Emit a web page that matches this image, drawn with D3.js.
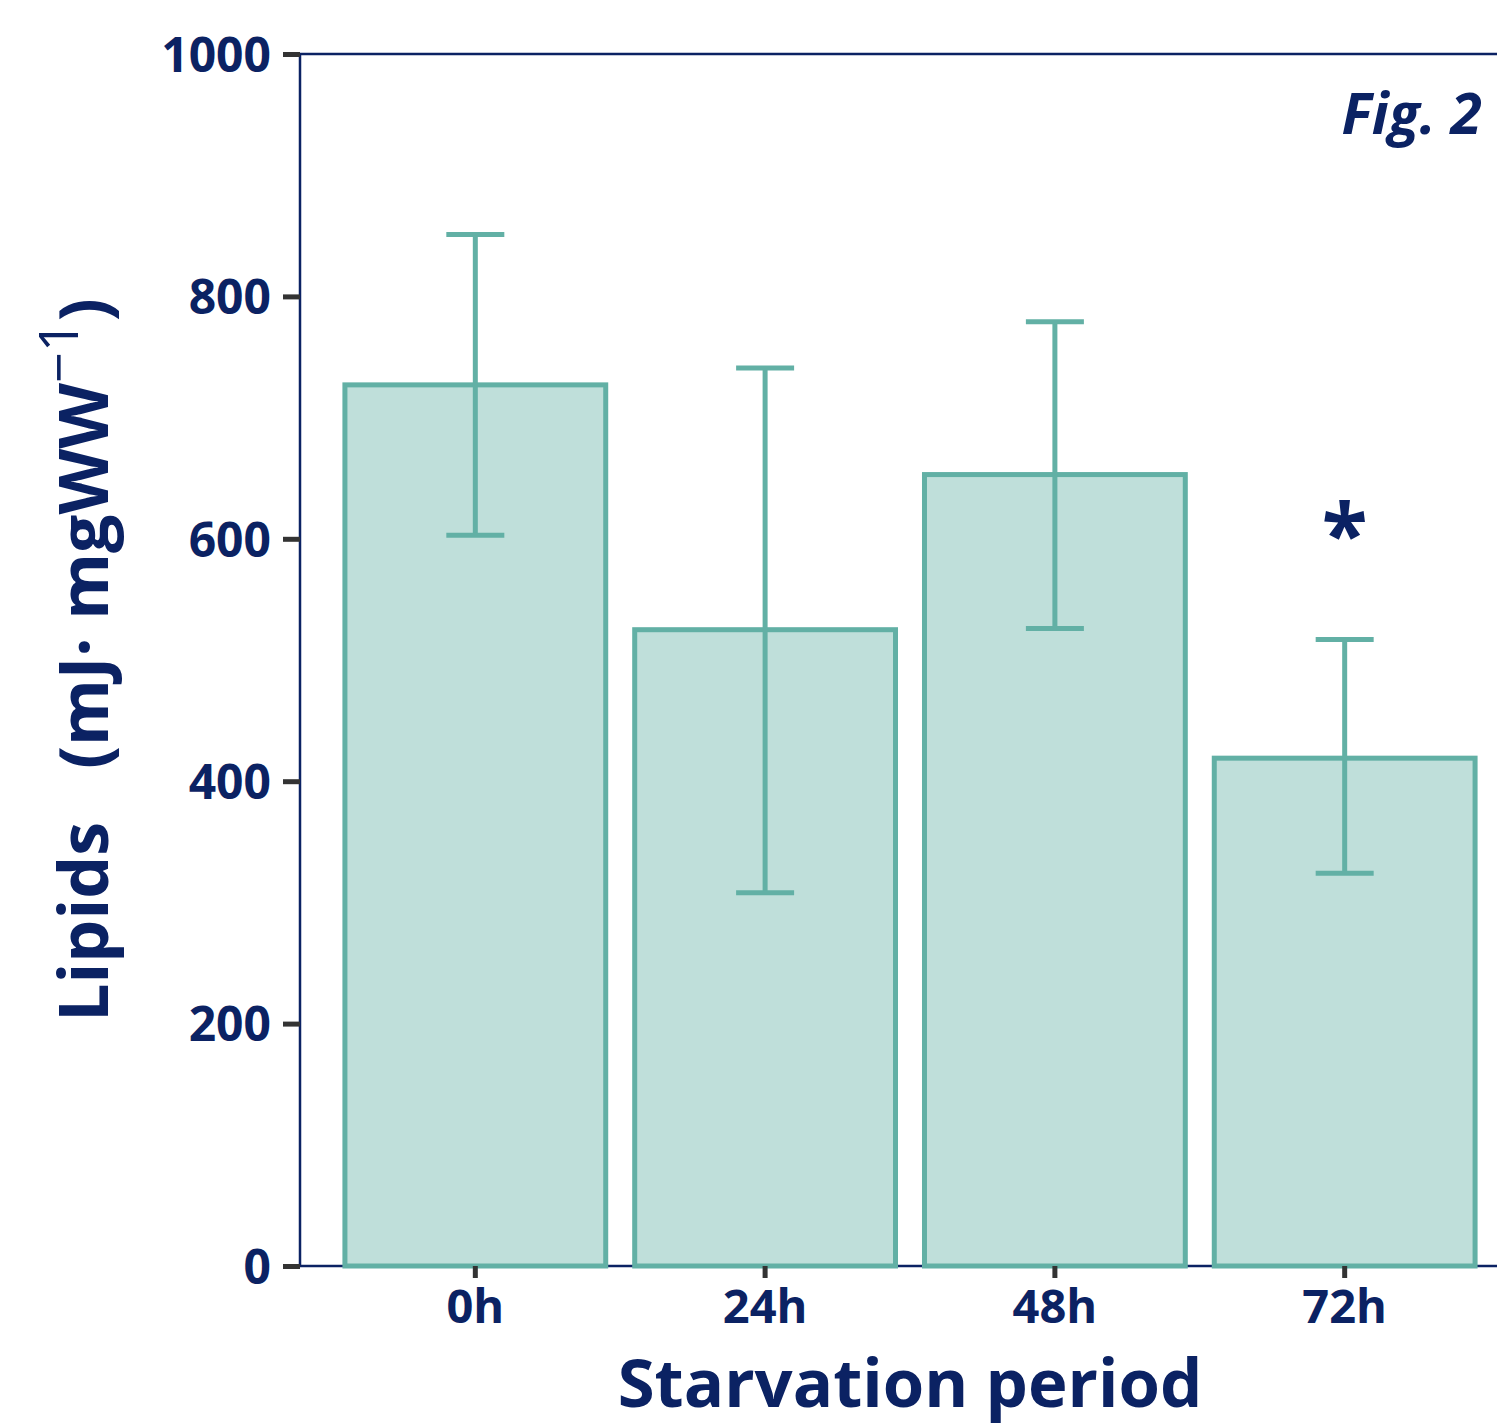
<!DOCTYPE html>
<html>
<head>
<meta charset="utf-8">
<script src="https://cdn.jsdelivr.net/npm/d3@7"></script>
<style>
  body { margin: 0; background: #fff; }
  svg text { font-family: "Open Sans", "DejaVu Sans", sans-serif; font-weight: 700; fill: #0b2263; white-space: pre; }
</style>
</head>
<body>
<div id="chart"></div>
<script>
// data
const periods = ["0h", "24h", "48h", "72h"];
const lipids = [727, 525, 653, 419];
const errUpper = [851, 741, 779, 517];
const errLower = [603, 308, 526, 324];
const significant = [false, false, false, true];
const yTicks = [0, 200, 400, 600, 800, 1000];

const width = 1497, height = 1427;
const margin = {top: 54, left: 300, bottom: 161};
const plotRight = 1520;

const svg = d3.select("#chart").append("svg")
  .attr("width", width)
  .attr("height", height);

const x = d3.scaleBand()
  .domain(periods)
  .range([margin.left, plotRight])
  .paddingInner(0.1)
  .paddingOuter(0.155);

const y = d3.scaleLinear()
  .domain([0, 1000])
  .range([height - margin.bottom, margin.top]);

const navy = "#0b2263";
const teal = "#62b0a5";

// frame
svg.append("rect")
  .attr("x", margin.left)
  .attr("y", y(1000))
  .attr("width", plotRight - margin.left)
  .attr("height", y(0) - y(1000))
  .attr("fill", "none")
  .attr("stroke", navy)
  .attr("stroke-width", 2.5);

// bars
svg.append("g").selectAll("rect")
  .data(periods)
  .join("rect")
    .attr("x", d => x(d))
    .attr("y", (d, i) => y(lipids[i]))
    .attr("width", x.bandwidth())
    .attr("height", (d, i) => y(0) - y(lipids[i]))
    .attr("fill", "#bfdfda")
    .attr("stroke", teal)
    .attr("stroke-width", 5);

// error bars
const capW = 58;
const eb = svg.append("g").attr("stroke", teal).attr("stroke-width", 5);
periods.forEach((p, i) => {
  const cx = x(p) + x.bandwidth() / 2;
  eb.append("line").attr("x1", cx).attr("x2", cx).attr("y1", y(errUpper[i])).attr("y2", y(errLower[i]));
  eb.append("line").attr("x1", cx - capW / 2).attr("x2", cx + capW / 2).attr("y1", y(errUpper[i])).attr("y2", y(errUpper[i]));
  eb.append("line").attr("x1", cx - capW / 2).attr("x2", cx + capW / 2).attr("y1", y(errLower[i])).attr("y2", y(errLower[i]));
});

// significance mark
svg.append("g").selectAll("text")
  .data(periods.filter((p, i) => significant[i]))
  .join("text")
    .attr("x", d => x(d) + x.bandwidth() / 2)
    .attr("y", d => y(errUpper[periods.indexOf(d)]) - 75)
    .attr("text-anchor", "middle")
    .attr("font-size", 84)
    .text("*");

// axes
const yAxis = svg.append("g")
  .attr("transform", `translate(${margin.left},0)`)
  .call(d3.axisLeft(y).tickValues(yTicks).tickFormat(d3.format("d")).tickSize(17).tickPadding(12));
yAxis.select(".domain").remove();
yAxis.selectAll(".tick line").attr("stroke", "#333").attr("stroke-width", 5);
yAxis.selectAll(".tick text").attr("font-size", 48).attr("fill", navy).attr("dy", "0.36em");

const xAxis = svg.append("g")
  .attr("transform", `translate(0,${y(0)})`)
  .call(d3.axisBottom(x).tickSize(12).tickPadding(12));
xAxis.select(".domain").remove();
xAxis.selectAll(".tick line").attr("stroke", "#333").attr("stroke-width", 5);
xAxis.selectAll(".tick text").attr("font-size", 47).attr("fill", navy);

// axis titles
svg.append("text")
  .attr("x", (margin.left + plotRight) / 2)
  .attr("y", 1407)
  .attr("text-anchor", "middle")
  .attr("font-size", 67)
  .text("Starvation period");

const yt = svg.append("text")
  .attr("transform", `translate(108,${(y(0) + y(1000)) / 2}) rotate(-90)`)
  .attr("text-anchor", "middle")
  .attr("font-size", 68);
yt.append("tspan").text("Lipids   (mJ· mgWW");
yt.append("tspan").attr("dy", -30).attr("font-size", 54).attr("font-weight", 400).text("−1");
yt.append("tspan").attr("dy", 30).text(")");

svg.append("text")
  .attr("x", 1482)
  .attr("y", 134)
  .attr("text-anchor", "end")
  .attr("font-size", 57)
  .attr("font-style", "italic")
  .text("Fig. 2");
</script>
</body>
</html>
